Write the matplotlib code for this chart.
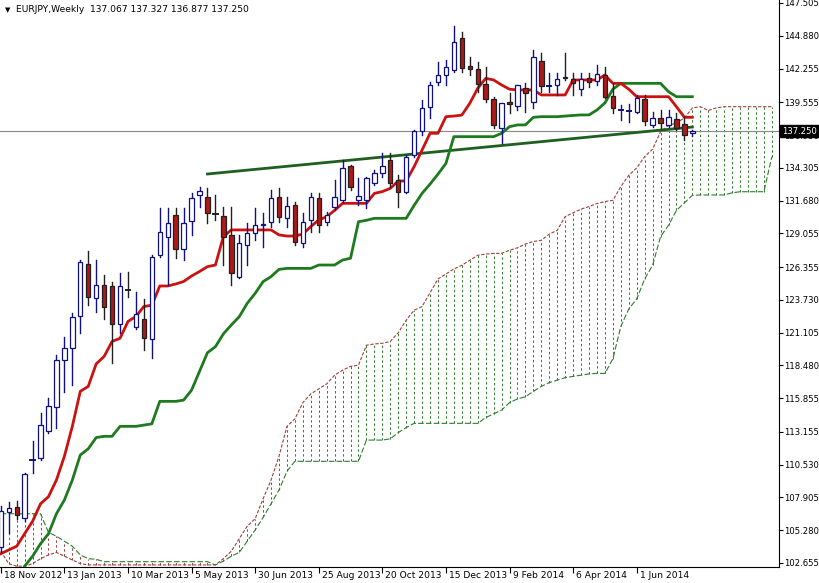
import matplotlib
matplotlib.use("Agg")
import matplotlib.pyplot as plt
import numpy as np

# ---------------- data ----------------
opens = [103.9,106.77,107.11,106.23,110.9,111.04,113.25,115.12,118.91,119.85,
         122.46,126.60,123.85,124.92,124.84,121.77,124.55,121.58,122.20,120.57,
         127.32,128.74,130.53,127.78,130.07,132.10,131.94,130.60,130.45,128.93,
         125.59,128.12,129.11,129.73,129.99,131.94,130.26,131.33,128.26,130.13,
         131.86,130.00,131.19,131.73,134.45,131.73,131.73,133.10,133.86,134.93,
         133.33,132.40,135.33,137.25,139.15,141.20,141.74,142.14,144.67,142.46,
         142.19,141.02,139.79,137.47,139.60,139.26,140.67,139.60,142.89,140.86,
         140.94,141.61,141.39,140.59,141.47,141.29,141.74,140.06,138.94,138.86,
         138.80,139.79,137.74,138.27,137.74,138.19,137.79,137.067]
highs = [107.2,107.57,107.60,109.90,112.45,114.64,115.84,119.31,120.73,122.70,
         126.92,127.67,126.92,125.72,125.19,125.85,125.99,124.39,123.77,127.32,
         131.06,131.06,131.06,131.06,132.26,132.80,132.66,132.13,131.19,131.19,
         128.93,129.86,131.06,130.66,132.53,132.66,131.99,131.59,130.66,132.32,
         132.26,130.79,133.33,134.93,134.50,133.46,133.60,134.13,135.47,135.47,
         133.73,135.33,137.33,139.74,141.20,142.81,142.94,145.66,145.21,143.20,
         142.81,142.41,140.00,139.47,140.27,140.94,141.07,143.74,143.47,141.87,
         141.87,143.47,141.87,141.87,141.87,142.54,142.41,141.07,139.34,139.42,
         140.14,140.14,138.80,138.94,138.94,138.67,138.40,137.327]
lows = [103.5,105.03,106.20,106.00,109.84,110.90,113.04,113.44,116.38,116.91,
        121.10,123.32,122.78,122.17,118.65,121.05,123.99,121.37,119.71,119.05,
        127.19,124.92,127.06,126.92,128.93,131.19,129.86,130.13,126.52,124.92,
        125.45,126.52,128.53,127.99,129.59,129.99,129.59,128.12,127.99,129.19,
        129.19,129.73,130.93,131.59,132.53,131.33,131.06,132.93,133.60,132.80,
        131.19,132.26,135.20,136.93,138.27,140.94,140.94,142.00,142.00,141.74,
        140.40,139.60,137.46,136.27,138.67,138.94,138.80,139.07,140.40,140.40,
        140.14,141.34,140.14,140.14,140.80,140.94,139.87,138.67,138.14,138.00,
        138.67,137.74,137.60,137.47,137.60,137.34,136.54,136.877]
closes = [106.8,107.03,106.50,109.78,110.96,113.71,115.23,118.91,119.85,122.38,
          126.79,123.93,124.92,123.13,121.77,124.84,124.50,122.57,120.65,127.14,
          129.19,129.86,127.78,129.86,131.86,132.42,130.71,130.55,128.74,125.86,
          128.26,129.06,129.73,129.80,131.86,130.39,131.25,128.39,129.99,131.99,
          129.73,130.53,131.99,134.26,132.74,132.05,133.46,133.86,134.45,133.06,
          132.40,135.20,137.25,139.07,140.94,141.74,142.35,144.41,142.27,142.19,
          141.02,139.79,137.74,139.47,139.42,140.94,140.27,143.20,140.86,140.90,
          141.39,141.47,141.07,141.39,141.20,141.82,140.00,139.07,138.94,138.86,
          139.87,138.08,138.27,137.92,138.35,137.47,136.94,137.250]

tenkan = [103.4,103.7,104.0,105.0,106.0,107.4,107.97,109.3,111.2,113.6,
          116.4,116.8,118.6,119.2,120.4,120.65,122.0,122.4,123.2,123.3,
          124.84,124.84,125.0,125.2,125.64,126.0,126.39,126.52,128.79,129.33,
          129.33,129.33,129.33,129.33,129.33,128.93,128.84,128.84,129.0,129.6,
          130.13,130.39,130.9,131.46,131.46,131.46,131.46,132.26,132.4,132.66,
          133.25,133.25,134.4,135.73,137.07,137.07,138.4,138.45,138.53,139.47,
          140.67,141.47,141.34,140.94,140.6,140.54,140.54,140.54,140.14,140.14,
          140.14,140.14,141.34,141.34,141.34,141.34,141.74,141.07,141.07,140.6,
          140.0,140.0,140.0,140.0,140.0,139.2,138.35,138.35]
kijun = [99.5,100.3,101.2,102.4,103.2,104.2,105.0,106.6,107.7,109.3,
         111.3,111.8,112.7,112.8,112.8,113.6,113.6,113.6,113.7,113.8,
         115.6,115.6,115.6,115.7,116.5,118.0,119.5,119.98,121.0,121.72,
         122.38,123.45,124.25,125.19,125.59,126.17,126.25,126.25,126.25,126.25,
         126.52,126.52,126.52,126.92,127.06,129.99,130.1,130.26,130.26,130.26,
         130.26,130.26,131.3,132.26,133.0,133.8,134.66,136.8,136.8,136.8,
         136.8,136.8,136.8,137.07,137.6,137.74,137.74,138.35,138.4,138.4,
         138.4,138.45,138.5,138.54,138.54,138.94,139.5,140.6,141.07,141.07,
         141.07,141.07,141.07,141.07,140.4,140.0,140.0,140.0]
span_a = [103.6,102.6,102.4,102.4,102.6,103.0,103.3,103.5,103.2,102.9,
          102.6,102.5,102.5,102.5,102.5,102.5,102.5,102.5,102.5,102.5,
          102.5,102.5,102.5,102.5,102.5,102.5,102.5,102.5,103.0,103.6,
          104.6,105.6,106.2,107.8,109.3,111.2,113.6,114.2,115.5,116.2,
          116.6,117.0,117.7,118.1,118.4,118.5,120.1,120.2,120.25,120.4,
          121.1,122.1,122.9,123.2,124.3,125.4,125.8,126.2,126.5,126.9,
          127.3,127.4,127.45,127.46,127.7,127.9,128.2,128.4,128.5,129.0,
          129.3,130.4,130.7,131.0,131.2,131.45,131.6,131.7,132.8,133.7,
          134.3,135.2,135.8,137.2,137.7,137.9,138.3,139.1,139.2,138.9,
          139.1,139.2,139.2,139.2,139.2,139.2,139.2,139.2]
span_b = [106.6,106.6,106.6,106.6,106.6,106.6,105.1,104.8,104.4,104.0,
          103.3,103.0,102.95,102.76,102.76,102.76,102.76,102.76,102.76,102.76,
          102.76,102.76,102.76,102.76,102.76,102.76,102.76,102.5,102.8,103.2,
          103.5,104.4,105.3,106.3,107.4,108.5,110.0,110.8,110.8,110.8,
          110.8,110.8,110.8,110.8,110.8,110.8,112.5,112.5,112.5,112.6,
          113.1,113.5,113.84,113.84,113.84,113.84,113.84,113.84,113.84,113.84,
          113.84,114.3,114.6,114.9,115.5,115.8,115.97,116.4,116.8,117.1,
          117.3,117.5,117.6,117.7,117.8,117.84,117.84,119.0,121.6,123.0,
          123.8,125.4,126.5,128.8,129.7,130.9,131.5,132.1,132.13,132.13,
          132.13,132.13,132.3,132.39,132.39,132.39,132.39,135.2]

trend_idx = [26, 87]
trend_val = [133.81, 137.57]

date_labels = ["18 Nov 2012", "13 Jan 2013", "10 Mar 2013", "5 May 2013", "30 Jun 2013",
               "25 Aug 2013", "20 Oct 2013", "15 Dec 2013", "9 Feb 2014", "6 Apr 2014", "1 Jun 2014"]
price_ticks = [147.505, 144.880, 142.255, 139.555, 136.930, 134.305, 131.680, 129.055,
               126.355, 123.730, 121.105, 118.480, 115.855, 113.155, 110.530, 107.905,
               105.280, 102.655]
last_price = 137.250

FS = 6.6
FSY = 6.1

# ---------------- figure ----------------
fig = plt.figure(figsize=(8.2, 5.83), dpi=100)
ax = fig.add_axes([0, 16/583, 779/820, 567/583])
ax.set_xlim(-0.1, 97.9)
ax.set_ylim(102.334, 147.745)

# cloud
xc = np.arange(len(span_a))
for i in xc:
    a, b = span_a[i], span_b[i]
    col = "#2e7d2e" if a >= b else "#a0403a"
    ax.plot([i, i], [min(a, b), max(a, b)], color=col, lw=0.7, ls=(0, (2.5, 2.5)), zorder=1)
ax.plot(xc, span_a, color="#a0403a", lw=0.8, ls=(0, (3, 1.5)), zorder=2)
ax.plot(xc, span_b, color="#2e7d2e", lw=0.8, ls=(0, (5, 2)), zorder=2)

# price line
ax.axhline(last_price, color="#888888", lw=0.8, zorder=1)

# trend line
ax.plot(trend_idx, trend_val, color="#1f5f1f", lw=2, zorder=3)

# tenkan / kijun
xi = np.arange(len(tenkan))
ax.plot(xi, kijun, color="#1e7a1e", lw=2, zorder=4)
ax.plot(xi, tenkan, color="#cc1111", lw=2, zorder=5)

# candles
w = 0.55
for i in range(len(opens)):
    o, h, l, c = opens[i], highs[i], lows[i], closes[i]
    bull = c >= o
    edge = "#101080" if bull else "#202020"
    ax.plot([i, i], [l, h], color=edge, lw=1, zorder=6)
    lo, hi = min(o, c), max(o, c)
    if hi - lo < 0.06:
        ax.plot([i - w/2, i + w/2], [o, o], color=edge, lw=1.4, zorder=7)
    else:
        ax.add_patch(plt.Rectangle((i - w/2, lo), w, hi - lo,
                                   facecolor="white" if bull else "#b01818",
                                   edgecolor=edge, lw=0.9, zorder=7))

# axes styling
for s in ["top", "left"]:
    ax.spines[s].set_visible(False)
ax.spines["right"].set_color("black")
ax.spines["bottom"].set_color("black")
ax.yaxis.tick_right()
ax.set_yticks(price_ticks)
ax.set_yticklabels([f"{p:.3f}" for p in price_ticks], fontsize=FSY)
ax.tick_params(axis="y", length=3, pad=1, width=0.8)
tpos = [8 * k for k in range(len(date_labels))]
ax.set_xticks(tpos)
ax.set_xticklabels([])
ax.tick_params(axis="x", length=4, direction="out", width=0.8)
for t, lab in zip(tpos, date_labels):
    ax.annotate(lab, xy=(t, 0), xycoords=("data", "axes fraction"),
                xytext=(3, -8), textcoords="offset pixels",
                ha="left", va="center", fontsize=FS)

ax.annotate(f"{last_price:.3f}", xy=(1, last_price), xycoords=("axes fraction", "data"),
            xytext=(3, 0), textcoords="offset pixels",
            ha="left", va="center", fontsize=FSY, color="white",
            bbox=dict(boxstyle="square,pad=0.2", fc="black", ec="black"), zorder=10,
            annotation_clip=False)

fig.text(0.006, 0.983, "\u25BC", fontsize=5, va="center", ha="left")
fig.text(0.02, 0.983, "EURJPY,Weekly  137.067 137.327 136.877 137.250",
         fontsize=FS, va="center", ha="left")

fig.savefig("out.png", dpi=100)
